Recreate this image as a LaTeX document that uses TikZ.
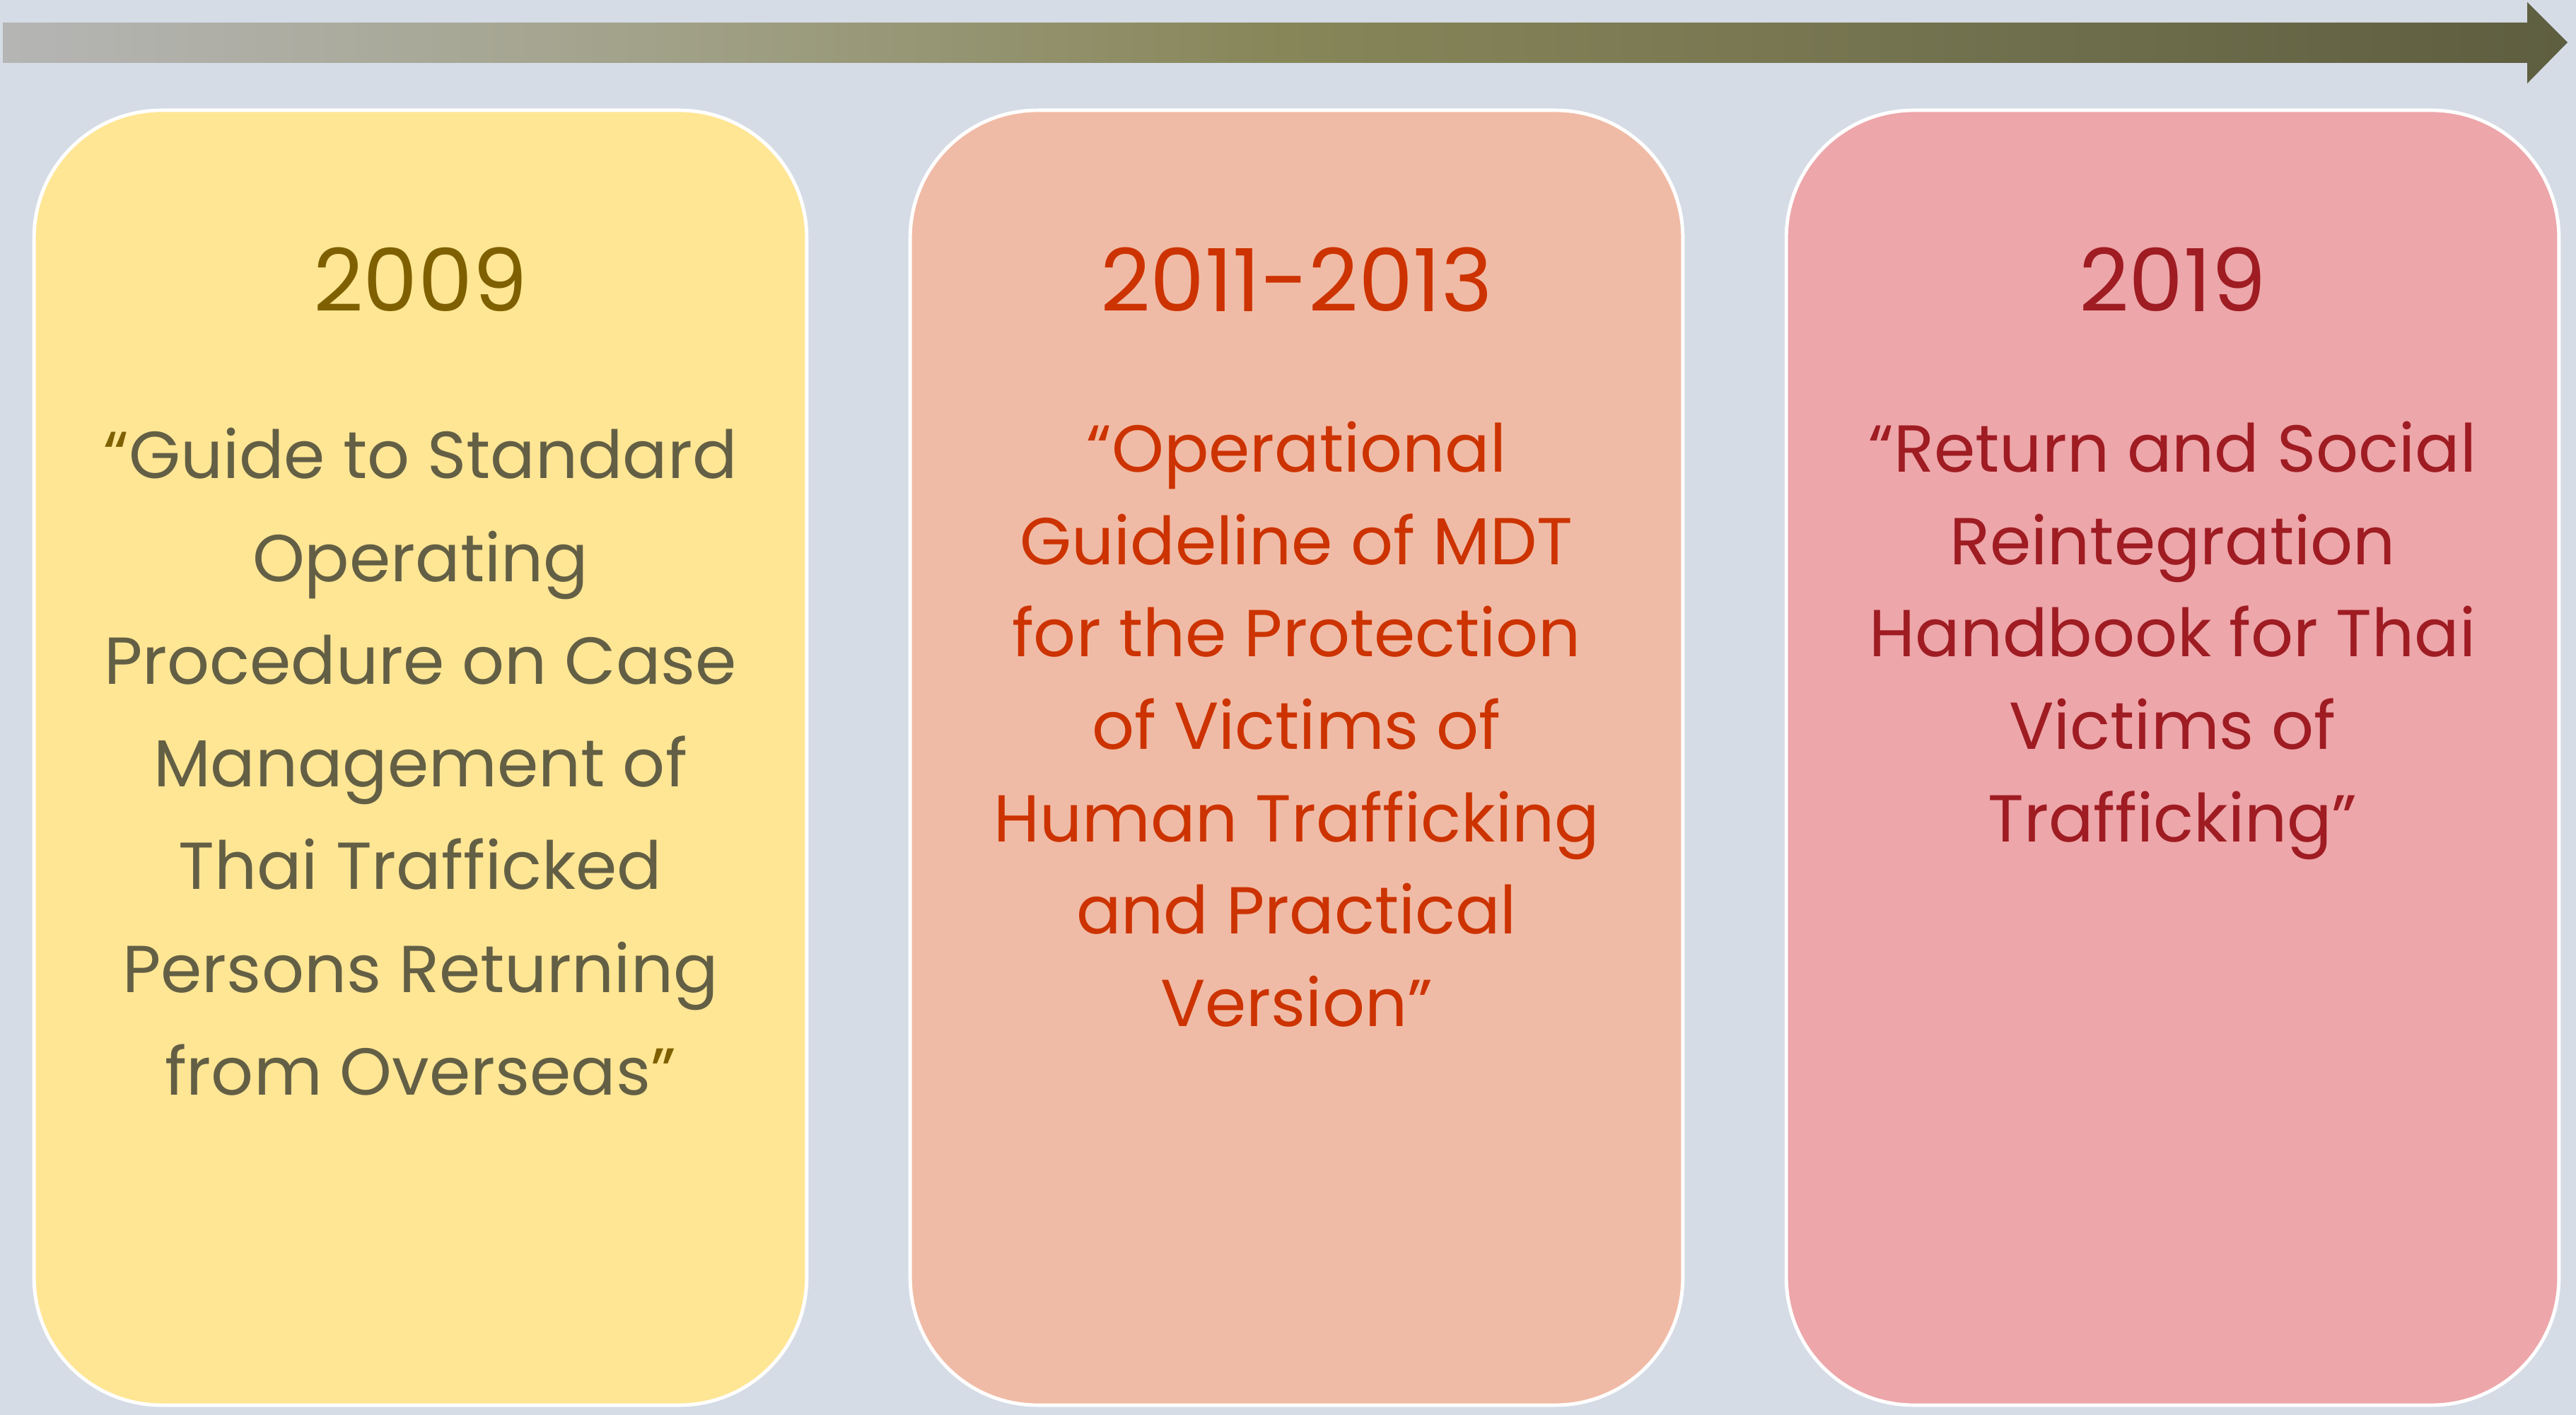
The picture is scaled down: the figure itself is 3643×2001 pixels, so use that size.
\documentclass[tikz,border=0pt]{standalone}
\usepackage{fontspec}
\setmainfont{Poppins}
\definecolor{bgcol}{HTML}{D5DCE6}
\definecolor{fillA}{HTML}{FFE694}
\definecolor{fillB}{HTML}{F0BBA6}
\definecolor{fillC}{HTML}{EDA6AA}
\definecolor{yearA}{HTML}{7F6000}
\definecolor{textA}{HTML}{635F45}
\definecolor{textB}{HTML}{CC3300}
\definecolor{textC}{HTML}{9E1C22}
\pgfdeclarehorizontalshading{timeline}{100bp}{
	color(0bp)=(black!29!white); color(25bp)=(black!29!white);
	color(37.5bp)=(rgb,255:red,162;green,162;blue,138);
	color(50bp)=(rgb,255:red,135;green,134;blue,89);
	color(62.5bp)=(rgb,255:red,115;green,114;blue,79);
	color(75bp)=(rgb,255:red,94;green,94;blue,64); color(100bp)=(rgb,255:red,94;green,94;blue,64)}
\tikzset{
	panel/.style={draw=white, line width=1.4pt, rounded corners=1.8cm,
		minimum width=10.92cm, minimum height=18.3cm, inner sep=0pt},
	yearlabel/.style={anchor=base, inner sep=0pt, font=\fontsize{35}{40}\selectfont},
	textline/.style={anchor=base, inner sep=0pt, font=\fontsize{26.7}{30}\selectfont}
}
\begin{document}
\begin{tikzpicture}[x=0.01cm, y=-0.01cm]
		\fill [bgcol] (0,0) rectangle (3643,2001);
		\useasboundingbox (0,0) rectangle (3643,2001);
		
		% timeline arrow
		\shade [shading=timeline]
			(4,32) -- (3574,32) -- (3574,3) -- (3631,60) -- (3574,118) -- (3574,89) -- (4,89) -- cycle;
		
		\node [panel, fill=fillA] (panelA) at (594.5,1071.5) {};
		\node [panel, fill=fillB] (panelB) at (1833.5,1071.5) {};
		\node [panel, fill=fillC] (panelC) at (3072.5,1071.5) {};
		
		\node [yearlabel, text=yearA] (yearA) at (594.5,441) {2009};
		\node [yearlabel, text=textB] (yearB) at (1833.5,441) {2011-2013};
		\node [yearlabel, text=textC] (yearC) at (3072.5,441) {2019};
		
		\foreach \txt [count=\i] in {{\textcolor{yearA}{“}Guide to Standard}, Operating,
			Procedure on Case, Management of, Thai Trafficked, Persons Returning,
			{from Overseas\textcolor{yearA}{”}}}
			\node [textline, text=textA] (lineA-\i) at (594.5,{677+145.2*(\i-1)}) {\txt};
		
		\foreach \txt [count=\i] in {“Operational, Guideline of MDT, for the Protection,
			of Victims of, Human Trafficking, and Practical, Version”}
			\node [textline, text=textB] (lineB-\i) at (1833.5,{668+130.5*(\i-1)}) {\txt};
		
		\foreach \txt [count=\i] in {“Return and Social, Reintegration, Handbook for Thai,
			Victims of, Trafficking”}
			\node [textline, text=textC] (lineC-\i) at (3072.5,{668+130.5*(\i-1)}) {\txt};
		
\end{tikzpicture}
\end{document}
